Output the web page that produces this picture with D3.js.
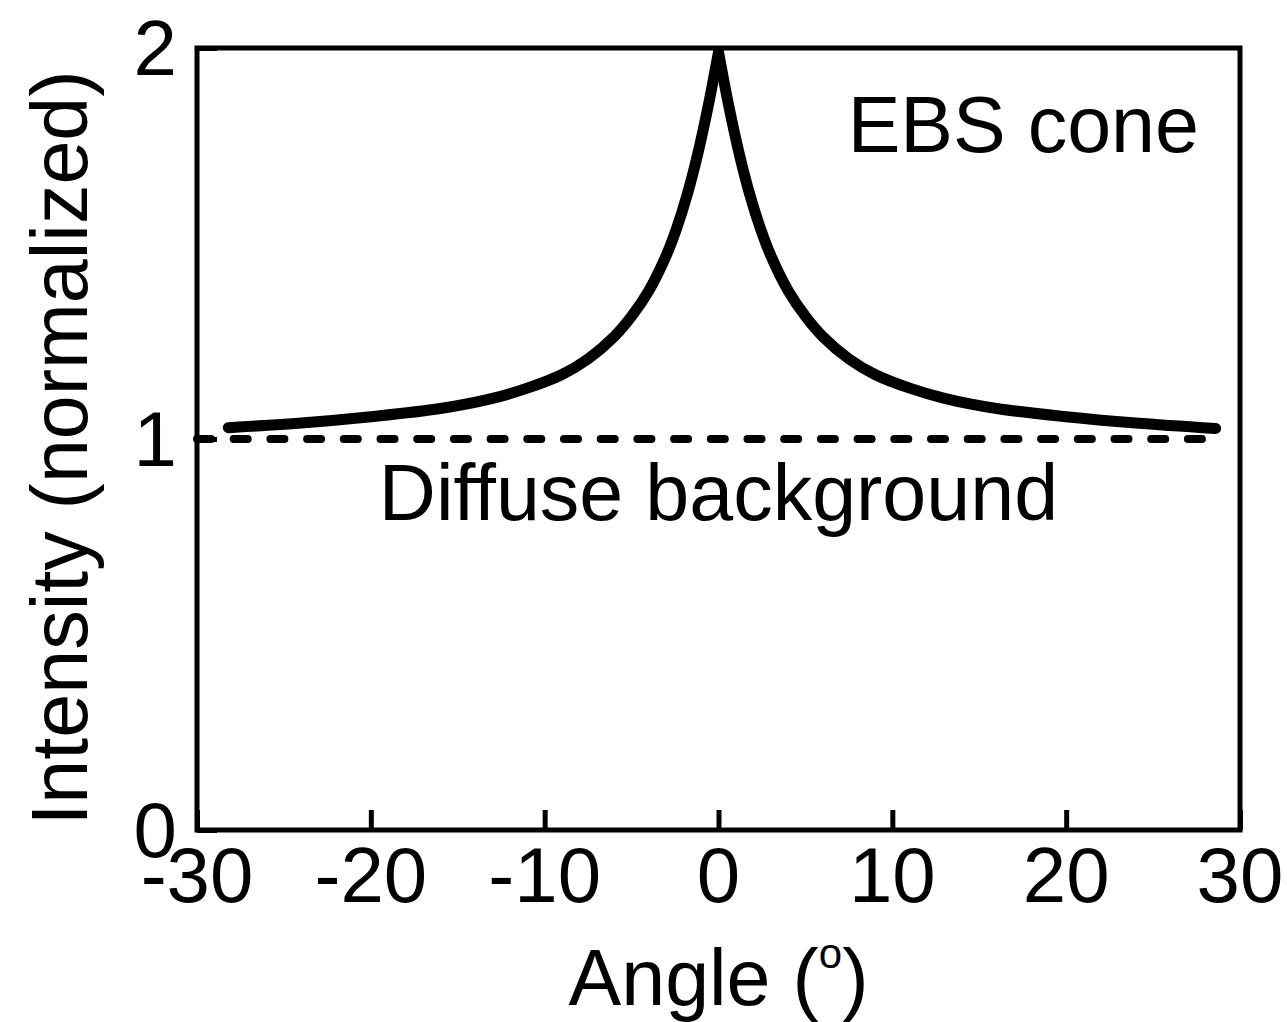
<!DOCTYPE html>
<html>
<head>
<meta charset="utf-8">
<script src="https://cdn.jsdelivr.net/npm/d3@7"></script>
<style>
  body { margin: 0; background: #fff; }
  svg text { font-family: "Liberation Sans", Arial, sans-serif; fill: #000; }
</style>
</head>
<body>
<svg id="chart" width="1287" height="1022"></svg>
<script>
// values
let angles = [-28.2, -24, -20, -16, -13, -11, -9, -7.5, -6, -5, -4, -3, -2.4, -1.8, -1.2, -0.6, 0,
              0.6, 1.2, 1.8, 2.4, 3, 4, 5, 6, 7.5, 9, 11, 13, 16, 20, 24, 28.6]
let intensity = [1.029, 1.041, 1.057, 1.078, 1.104, 1.130, 1.165, 1.205, 1.262, 1.314, 1.380, 1.470, 1.540, 1.625, 1.728, 1.850, 1.99,
                 1.850, 1.728, 1.625, 1.540, 1.470, 1.380, 1.314, 1.262, 1.205, 1.165, 1.130, 1.104, 1.078, 1.057, 1.041, 1.027]
let peakIndex = 16
let backgroundAngles = [-30, 28.6]
let backgroundLevel = 1
let xTicks = [-30, -20, -10, 0, 10, 20, 30]
let yTicks = [0, 1, 2]

let margin = { left: 197, right: 47, top: 48, bottom: 192 }
let width = 1287, height = 1022
let svg = d3.select("#chart")

let x = d3.scaleLinear().domain([-30, 30]).range([margin.left, width - margin.right])
let y = d3.scaleLinear().domain([0, 2]).range([height - margin.bottom, margin.top])

let tickSize = 78
let fontSize = 79

// inner ticks
let xAxis = d3.axisBottom(x).tickValues(xTicks).tickSizeInner(-20).tickSizeOuter(0).tickFormat("")
svg.append("g").attr("transform", `translate(0,${y(0)})`).call(xAxis)
  .call(g => g.select(".domain").remove())
  .selectAll("line").attr("stroke", "#000").attr("stroke-width", 5)

let yAxis = d3.axisLeft(y).tickValues(yTicks).tickSizeInner(-20).tickSizeOuter(0).tickFormat("")
svg.append("g").attr("transform", `translate(${x(-30)},0)`).call(yAxis)
  .call(g => g.select(".domain").remove())
  .selectAll("line").attr("stroke", "#000").attr("stroke-width", 5)

// tick labels
svg.append("g").selectAll("text").data(xTicks).join("text")
  .attr("x", d => x(d)).attr("y", y(0) + 72)
  .attr("text-anchor", "middle").attr("font-size", tickSize)
  .text(d => d < 0 ? "-" + Math.abs(d) : d)

svg.append("g").selectAll("text").data(yTicks).join("text")
  .attr("x", x(-30) - 20).attr("y", d => y(d)).attr("dy", "0.34em")
  .attr("text-anchor", "end").attr("font-size", tickSize)
  .text(d => d)

// diffuse background
let line = d3.line().x(d => x(d[0])).y(d => y(d[1]))
svg.append("path")
  .datum(backgroundAngles.map(a => [a, backgroundLevel]))
  .attr("d", line)
  .attr("fill", "none").attr("stroke", "#000").attr("stroke-width", 8)
  .attr("stroke-linecap", "round").attr("stroke-dasharray", "14,22.7")

// EBS cone, drawn as two halves so the peak stays a cusp
let cone = angles.map((a, i) => [a, intensity[i]])
let coneLine = d3.line().x(d => x(d[0])).y(d => y(d[1])).curve(d3.curveCatmullRom.alpha(0.5))
svg.append("g").selectAll("path")
  .data([cone.slice(0, peakIndex + 1), cone.slice(peakIndex)])
  .join("path")
  .attr("d", coneLine)
  .attr("fill", "none").attr("stroke", "#000").attr("stroke-width", 11)
  .attr("stroke-linecap", "round").attr("stroke-linejoin", "round")

// frame
svg.append("rect")
  .attr("x", x(-30)).attr("y", y(2))
  .attr("width", x(30) - x(-30)).attr("height", y(0) - y(2))
  .attr("fill", "none").attr("stroke", "#000").attr("stroke-width", 5)

// annotations
svg.append("text").attr("x", 1199).attr("y", 152)
  .attr("text-anchor", "end").attr("font-size", fontSize).text("EBS cone")
svg.append("text").attr("x", x(0)).attr("y", 520)
  .attr("text-anchor", "middle").attr("font-size", fontSize).text("Diffuse background")

// axis titles
let xTitle = svg.append("text").attr("x", x(0)).attr("y", 1005)
  .attr("text-anchor", "middle").attr("font-size", fontSize)
xTitle.append("tspan").text("Angle (")
xTitle.append("tspan").attr("font-size", 42).attr("dy", -37).text("o")
xTitle.append("tspan").attr("dy", 37).text(")")

svg.append("text")
  .attr("transform", `translate(87,448) rotate(-90)`)
  .attr("text-anchor", "middle").attr("font-size", fontSize)
  .text("Intensity (normalized)")
</script>
</body>
</html>
